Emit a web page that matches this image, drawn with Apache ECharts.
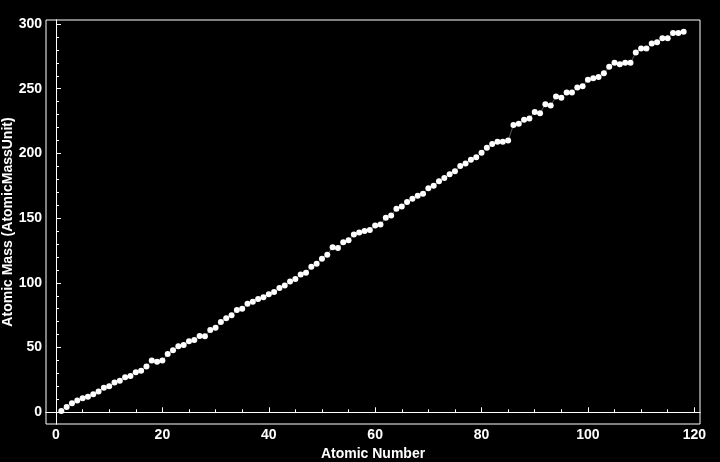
<!DOCTYPE html>
<html>
<head>
<meta charset="utf-8">
<script src="https://cdn.jsdelivr.net/npm/echarts@6/dist/echarts.min.js"></script>
<style>
html,body{margin:0;padding:0;background:#000;}
#main{width:720px;height:462px;}
</style>
</head>
<body>
<div id="main"></div>
<script>
const atomicNumbers = Array.from({length: 118}, (_, i) => i + 1);
const atomicMasses = [
  1.008, 4.0026, 6.941, 9.0122, 10.811, 12.011, 14.007, 15.999, 18.998, 20.180,
  22.990, 24.305, 26.982, 28.086, 30.974, 32.065, 35.453, 39.948, 39.098, 40.078,
  44.956, 47.867, 50.942, 51.996, 54.938, 55.845, 58.933, 58.693, 63.546, 65.38,
  69.723, 72.64, 74.922, 78.96, 79.904, 83.798, 85.468, 87.62, 88.906, 91.224,
  92.906, 95.96, 98, 101.07, 102.91, 106.42, 107.87, 112.41, 114.82, 118.71,
  121.76, 127.60, 126.90, 131.29, 132.91, 137.33, 138.91, 140.12, 140.91, 144.24,
  145, 150.36, 151.96, 157.25, 158.93, 162.50, 164.93, 167.26, 168.93, 173.05,
  174.97, 178.49, 180.95, 183.84, 186.21, 190.23, 192.22, 195.08, 196.97, 200.59,
  204.38, 207.2, 208.98, 209, 210, 222, 223, 226, 227, 232.04,
  231.04, 238.03, 237, 244, 243, 247, 247, 251, 252, 257,
  258, 259, 262, 267, 270, 269, 270, 270, 278, 281,
  281, 285, 286, 289, 289, 293, 293, 294
];
const xMajorTicks = [0, 20, 40, 60, 80, 100, 120];
const xMinorTicks = [5, 10, 15, 25, 30, 35, 45, 50, 55, 65, 70, 75, 85, 90, 95, 105, 110, 115];
const yMajorTicks = [0, 50, 100, 150, 200, 250, 300];
const yMinorTicks = [10, 20, 30, 40, 60, 70, 80, 90, 110, 120, 130, 140, 160, 170, 180, 190, 210, 220, 230, 240, 260, 270, 280, 290];

const xMin = -1.88, xMax = 121.07;
const yMin = -9.05, yMax = 303.1;

const font = '"Liberation Sans", Arial, sans-serif';
const chart = echarts.init(document.getElementById('main'));

function baseAxis(min, max) {
  return {
    type: 'value', min: min, max: max,
    splitLine: {show: false},
    axisLine: {show: true, lineStyle: {color: '#fff', width: 1}}
  };
}

chart.setOption({
  animation: false,
  backgroundColor: '#000',
  grid: {left: 46, top: 20, right: 20, bottom: 38, containLabel: false, outerBoundsMode: 'none',
         show: true, borderColor: '#fff', borderWidth: 1, backgroundColor: 'transparent'},
  xAxis: [
    Object.assign(baseAxis(xMin, xMax), {
      position: 'bottom',
      name: 'Atomic Number', nameLocation: 'middle', nameGap: 23, nameMoveOverlap: false,
      nameTextStyle: {color: '#fff', fontFamily: font, fontWeight: 'bold', fontSize: 14},
      axisTick: {show: true, inside: true, length: 5, customValues: xMajorTicks, lineStyle: {color: '#fff'}},
      axisLabel: {show: true, customValues: xMajorTicks, color: '#fff', fontFamily: font, fontWeight: 'bold', fontSize: 14, margin: 4}
    }),
    Object.assign(baseAxis(xMin, xMax), {
      position: 'bottom',
      axisTick: {show: true, inside: true, length: 3, customValues: xMinorTicks, lineStyle: {color: '#fff'}},
      axisLabel: {show: false}
    })
  ],
  yAxis: [
    Object.assign(baseAxis(yMin, yMax), {
      position: 'left',
      name: 'Atomic Mass (AtomicMassUnit)', nameLocation: 'middle', nameGap: 31, nameRotate: 90, nameMoveOverlap: false,
      nameTextStyle: {color: '#fff', fontFamily: font, fontWeight: 'bold', fontSize: 14},
      axisTick: {show: true, inside: true, length: 5, customValues: yMajorTicks, lineStyle: {color: '#fff'}},
      axisLabel: {show: true, customValues: yMajorTicks, color: '#fff', fontFamily: font, fontWeight: 'bold', fontSize: 14, margin: 4}
    }),
    Object.assign(baseAxis(yMin, yMax), {
      position: 'left',
      axisTick: {show: true, inside: true, length: 3, customValues: yMinorTicks, lineStyle: {color: '#fff'}},
      axisLabel: {show: false}
    })
  ],
  series: [{
    type: 'line',
    xAxisIndex: 0, yAxisIndex: 0,
    data: atomicNumbers.map((n, i) => [n, atomicMasses[i]]),
    symbol: 'circle', symbolSize: 6, showSymbol: true, showAllSymbol: true,
    itemStyle: {color: '#fff', borderWidth: 0},
    lineStyle: {color: '#5a5a5a', width: 1},
    emphasis: {disabled: true}
  }]
});
</script>
</body>
</html>
